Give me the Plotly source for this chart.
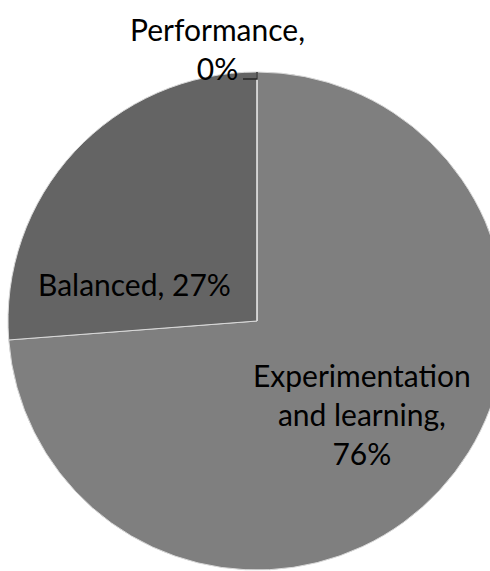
import plotly.graph_objects as go

# Survey share by orientation
categories = ["Experimentation and learning", "Balanced", "Performance"]
values = [76, 27, 0]
display_names = ["Experimentation<br>and learning", "Balanced", "Performance"]
line_break_after_name = [True, False, True]
colors = ["#7f7f7f", "#646464", "#8c8c8c"]

W, H = 514, 571
cx, cy, r = 257, 321, 249  # pie centre and radius in pixels


def px_x(x):
    return x / W


def px_y(y):
    return 1 - y / H


labels_text = [
    f"{n},{'<br>' if br else ' '}{v}%"
    for n, v, br in zip(display_names, values, line_break_after_name)
]

fig = go.Figure(
    go.Pie(
        labels=categories,
        values=values,
        sort=False,
        direction="clockwise",
        rotation=0,
        marker=dict(colors=colors, line=dict(color="#d9d9d9", width=1)),
        textinfo="none",
        hoverinfo="label+percent",
        showlegend=False,
        domain=dict(
            x=[px_x(cx - r), px_x(cx + r)],
            y=[px_y(cy + r), px_y(cy - r)],
        ),
    )
)

font = dict(family="Lato, Carlito, Calibri, sans-serif", size=30, color="#000000")
label_pos = [(362, 414), (134, 284), (217, 48)]
annotations = [
    dict(
        text=t,
        x=px_x(x),
        y=px_y(y),
        xref="paper",
        yref="paper",
        xanchor="center",
        yanchor="middle",
        showarrow=False,
        align="center",
        font=font,
    )
    for t, (x, y) in zip(labels_text, label_pos)
]

# leader from the zero-width slice label to the top of the pie
top_y = cy - r
leader = dict(
    type="path",
    xref="paper",
    yref="paper",
    path=(
        f"M {px_x(cx - 14)} {px_y(top_y + 7)} "
        f"L {px_x(cx)} {px_y(top_y + 7)} "
        f"L {px_x(cx)} {px_y(top_y)}"
    ),
    line=dict(color="#262626", width=1.5),
)

fig.update_layout(
    width=W,
    height=H,
    margin=dict(l=0, r=0, t=0, b=0),
    paper_bgcolor="#ffffff",
    plot_bgcolor="#ffffff",
    annotations=annotations,
    shapes=[leader],
)

fig.write_html(
    "out.html",
    post_script=(
        "document.body.style.overflow='hidden';"
        "document.documentElement.style.overflow='hidden';"
    ),
)
